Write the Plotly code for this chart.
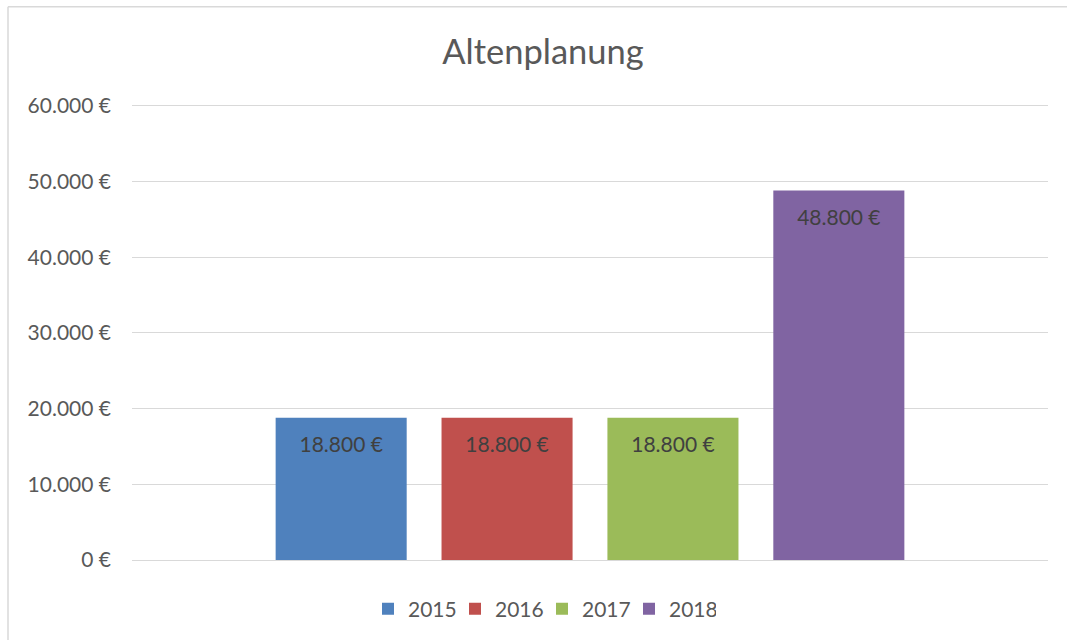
import plotly.graph_objects as go

categories = ["Altenplanung"]
years = ["2015", "2016", "2017", "2018"]
values = [18800, 18800, 18800, 48800]
colors = ["#4F81BD", "#C0504D", "#9BBB59", "#8064A2"]
tick_vals = [0, 10000, 20000, 30000, 40000, 50000, 60000]


def euro(v):
    return f"{v:,.0f}".replace(",", ".") + " €"


tick_text = [euro(v) for v in tick_vals]

FONT = "Lato, 'Open Sans', sans-serif"

fig = go.Figure()
for yr, v, c in zip(years, values, colors):
    fig.add_trace(go.Bar(
        name=yr, x=categories, y=[v], marker=dict(color=c, line=dict(width=0)),
        text=["<span style='font-size:4px'>&nbsp;</span><br>" + euro(v)],
        textposition="inside", insidetextanchor="end",
        textfont=dict(family=FONT, size=21, color="#404040"),
        textangle=0, hoverinfo="skip",
    ))

# page pixel coordinates (body margin removed in the page)
W, H = 1067, 643
L = 132
RIGHT_X = 1048
ZERO_Y = 560
TOP60 = 106
Y_MAX = 60500
R = W - RIGHT_X
T = TOP60 - (ZERO_Y - TOP60) * (Y_MAX - 60000) / 60000
B = H - ZERO_Y
pw, ph = W - L - R, ZERO_Y - T


def px_x(x):
    return (x - L) / pw


def px_y(y):
    return (ZERO_Y - y) / ph


border = dict(color="#D9D9D9", width=1.5)
fig.add_shape(type="line", xref="paper", yref="paper", layer="below",
              x0=px_x(8), x1=px_x(W + 5), y0=px_y(7), y1=px_y(7), line=border)
fig.add_shape(type="line", xref="paper", yref="paper", layer="below",
              x0=px_x(8), x1=px_x(8), y0=px_y(7), y1=px_y(640), line=border)

fig.update_layout(
    width=W, height=H, autosize=False,
    margin=dict(l=L, r=R, t=T, b=B, autoexpand=False),
    paper_bgcolor="white", plot_bgcolor="white",
    barmode="group", bargap=0.2756, bargroupgap=0.21,
    font=dict(family=FONT, color="#595959"),
    title=dict(text="Altenplanung", x=px_x(543), xanchor="center", xref="paper",
               y=1 - 52 / H, yanchor="middle",
               font=dict(family=FONT, size=34.5, color="#595959")),
    showlegend=True,
    legend=dict(orientation="h", x=px_x(542), xanchor="center",
                y=px_y(609), yanchor="middle",
                font=dict(family=FONT, size=21, color="#595959"),
                itemwidth=30, entrywidth=42, entrywidthmode="pixels",
                traceorder="normal"),
    xaxis=dict(showticklabels=False, showgrid=False, zeroline=False, showline=False, ticks=""),
    yaxis=dict(range=[0, Y_MAX], tickvals=tick_vals, ticktext=tick_text,
               showgrid=True, gridcolor="#D9D9D9", gridwidth=1.3,
               zeroline=True, zerolinecolor="#D9D9D9", zerolinewidth=1.3,
               showline=False, ticks="", ticklabelstandoff=20,
               tickfont=dict(family=FONT, size=21, color="#595959")),
)

fig.write_html(
    "out.html",
    config={"displayModeBar": False},
    post_script="document.body.style.margin='0';document.body.style.overflow='hidden';"
                "document.documentElement.style.overflow='hidden';",
)
